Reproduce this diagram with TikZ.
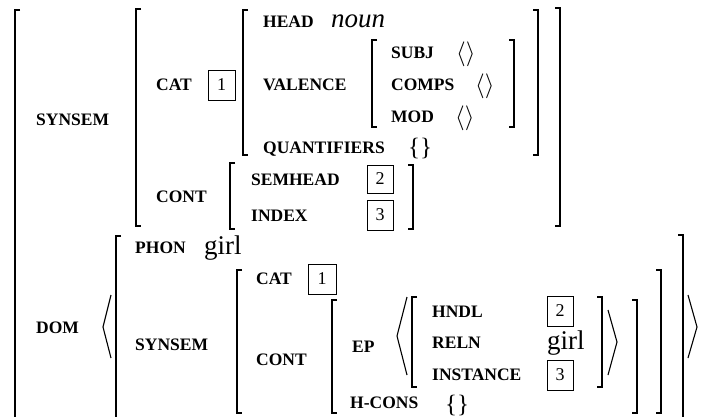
\documentclass[tikz,border=0pt]{standalone}
\usepackage{fontspec}
\setmainfont{Liberation Serif}
\newfontface\nounfont{Liberation Serif Italic}
\usetikzlibrary{positioning}

\begin{document}
\begin{tikzpicture}[
    x=1pt, y=-1pt,
    % Styles for the feature matrix
    feat/.style={
        anchor=west,
        inner sep=0pt,
        text height=11.6pt,
        text depth=0pt,
        font=\bfseries\fontsize{17.5}{17.5}\selectfont
    },
    word/.style={
        anchor=base west,
        inner sep=0pt,
        font=\fontsize{27}{27}\selectfont
    },
    tag/.style={
        rectangle,
        draw=black,
        line width=0.8pt,
        minimum width=26pt,
        minimum height=30pt,
        inner sep=0pt,
        font=\fontsize{18}{18}\selectfont
    },
    emptylist/.style={
        anchor=west,
        inner sep=0pt,
        font=\fontsize{25}{25}\selectfont
    },
    % Bracket line style
    brk/.style={
        draw=black,
        line width=1.3pt,
        line cap=butt,
        line join=miter
    },
    ang/.style={
        draw=black,
        line width=1.1pt
    }
]
    \useasboundingbox (0,0) rectangle (711,416);

    % --- Top level ---
    \draw[brk] (20,10) -| (15,420);
    \node[feat] (synsem) at (36,120) {SYNSEM};

    % SYNSEM value
    \draw[brk] (141,9) -| (136,226) -- ++(5,0);
    \draw[brk] (555,8) -| (560,226) -- ++(-5,0);

    % CAT
    \node[feat] (cat) at (156,85) {CAT};
    \node[tag, minimum width=27pt] (tagone) at (221.5,85) {1};
    \draw[brk] (248,10) -| (243,155) -- ++(5,0);
    \draw[brk] (533,10) -| (538,155) -- ++(-5,0);

    \node[feat] (head) at (263,22) {HEAD};
    \node[word, font=\nounfont\fontsize{27}{27}\selectfont] (noun) at (331,27) {noun};
    \node[feat] (valence) at (263,85) {VALENCE};

    % VALENCE value
    \draw[brk] (377,40) -| (372,127) -- ++(5,0);
    \draw[brk] (509,40) -| (514,127) -- ++(-5,0);
    \node[feat] (subj) at (391,53) {SUBJ};
    \node[emptylist] (subjval) at (456,54) {$\langle\rangle$};
    \node[feat] (comps) at (391,85) {COMPS};
    \node[emptylist] (compsval) at (475,86) {$\langle\rangle$};
    \node[feat] (mod) at (391,117) {MOD};
    \node[emptylist] (modval) at (455,118) {$\langle\rangle$};

    \node[feat] (quant) at (263,148) {QUANTIFIERS};
    \node[emptylist] (quantval) at (408,148) {\{\}};

    % CONT
    \node[feat] (cont) at (156,197) {CONT};
    \draw[brk] (235,163) -| (230,229) -- ++(5,0);
    \draw[brk] (408,165) -| (413,229) -- ++(-5,0);
    \node[feat] (semhead) at (251,180) {SEMHEAD};
    \node[tag, minimum height=28pt] (tagtwo) at (380,179) {2};
    \node[feat] (index) at (251,216) {INDEX};
    \node[tag] (tagthree) at (380,215) {3};

    % --- DOM ---
    \node[feat] (dom) at (36,328) {DOM};
    \draw[ang] (111,295) -- (103,327) -- (111,358);
    \draw[brk] (121,236) -| (116,420);
    \draw[brk] (678,235) -| (683,420);
    \draw[ang] (688,295) -- (697,327) -- (688,358);

    \node[feat] (phon) at (135,248) {PHON};
    \node[word] (girlphon) at (204,254) {girl};
    \node[feat] (domsynsem) at (135,345) {SYNSEM};

    % SYNSEM value in DOM
    \draw[brk] (242,270) -| (237,413) -- ++(5,0);
    \draw[brk] (656,270) -| (661,413) -- ++(-5,0);
    \node[feat] (domcat) at (256,279) {CAT};
    \node[tag, minimum width=28pt] (domtagone) at (322,279) {1};
    \node[feat] (domcont) at (256,360) {CONT};

    % CONT value in DOM
    \draw[brk] (337,300) -| (332,413) -- ++(5,0);
    \draw[brk] (632,300) -| (637,413) -- ++(-5,0);
    \node[feat] (ep) at (352,347) {EP};
    \draw[ang] (407,297) -- (397,336) -- (407,375);
    \draw[brk] (417,297) -| (412,387) -- ++(5,0);
    \draw[brk] (597,297) -| (602,387) -- ++(-5,0);
    \draw[ang] (608,310) -- (617,342) -- (608,375);

    \node[feat] (hndl) at (432,312) {HNDL};
    \node[tag] (eptagtwo) at (560,311) {2};
    \node[feat] (reln) at (432,343) {RELN};
    \node[word] (girlreln) at (547,349) {girl};
    \node[feat] (instance) at (432,375) {INSTANCE};
    \node[tag] (eptagthree) at (560,375) {3};

    \node[feat] (hcons) at (350,403) {H-CONS};
    \node[emptylist] (hconsval) at (445,405) {\{\}};

\end{tikzpicture}
\end{document}
